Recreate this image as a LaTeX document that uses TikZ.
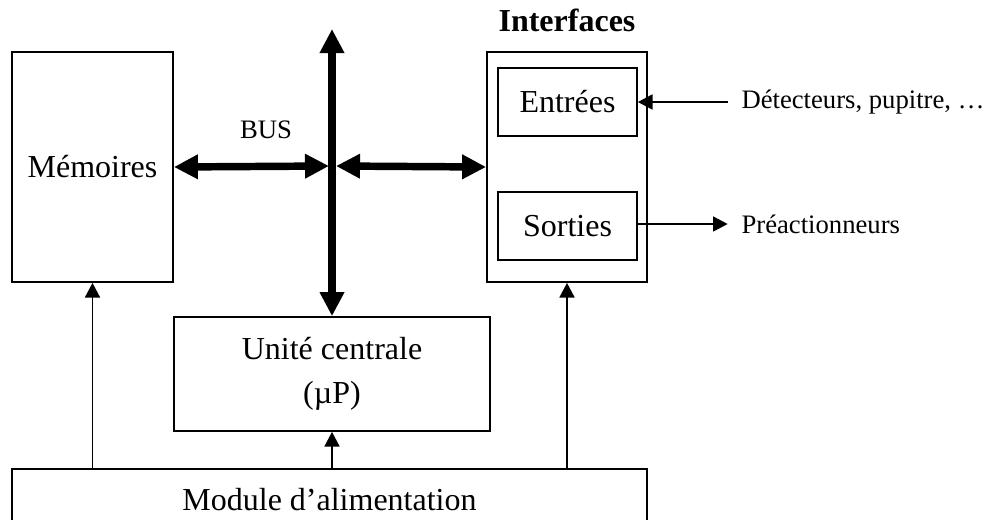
\documentclass[tikz,border=0pt]{standalone}
\usepackage{fontspec}
\setmainfont{Liberation Serif}
\usepackage{tikz}
\usetikzlibrary{arrows.meta,calc,positioning}
\tikzset{
    boite/.style={
           rectangle,
           draw=black, line width=0.65pt,
           inner sep=0pt,
           font=\fontsize{12}{16.5}\selectfont,
           align=center},
    bus/.style={
           {Triangle[width=8.7pt,length=9pt]}-{Triangle[width=8.7pt,length=9pt]},
           line width=2.8pt},
    fleche/.style={
           -{Triangle[width=5.6pt,length=5.5pt]},
           line width=0.7pt},
    etiq/.style={
           font=\fontsize{10}{12}\selectfont,
           inner sep=0pt}
}

\begin{document}
\begin{tikzpicture}[x=0.375pt, y=-0.375pt]
        \useasboundingbox (0,0) rectangle (987,519);
        \node[boite, minimum width=60.4pt, minimum height=86.25pt] (mem) at (92.5,167) {Mémoires};
        \node[boite, minimum width=60pt, minimum height=86.25pt] (itf) at (567,167) {};
        \node[above=7pt of itf, font=\fontsize{12}{14}\selectfont\bfseries, inner sep=0pt] (itflab) {Interfaces};
        \node[boite, minimum width=52.1pt, minimum height=25.5pt] (ent) at (567.5,102) {Entrées};
        \node[boite, minimum width=52.1pt, minimum height=25.5pt] (sor) at (567.5,226) {Sorties};
        \node[boite, minimum width=118.5pt, minimum height=42.75pt] (uc) at (332,374) {Unité centrale\\(µP)};
        \node[boite, minimum width=238.1pt, minimum height=23.25pt] (alim) at (329.5,500) {Module d’alimentation};
        \node[etiq] (buslab) at (266,130) {BUS};
        \node[etiq, anchor=west] (det) at (741,102) {Détecteurs, pupitre, …};
        \node[etiq, anchor=west] (pre) at (741,224) {Préactionneurs};
        \coordinate (bushaut) at (332,29);
        \coordinate (busg) at (329,166);
        \coordinate (busd) at (336,166);

        \draw[bus] (bushaut) -- (uc.north);
        \draw[bus] (mem.east) -- (busg);
        \draw[bus] (busd) -- (itf.west);
        \draw[fleche] ([xshift=-5pt]det.west) -- (ent.east);
        \draw[fleche] (sor.east |- pre.west) -- ([xshift=-5pt]pre.west);
        \draw[fleche] (alim.north -| mem.south) -- (mem.south);
        \draw[fleche] (alim.north -| uc.south) -- (uc.south);
        \draw[fleche] (alim.north -| itf.south) -- (itf.south);
    \end{tikzpicture}
\end{document}
